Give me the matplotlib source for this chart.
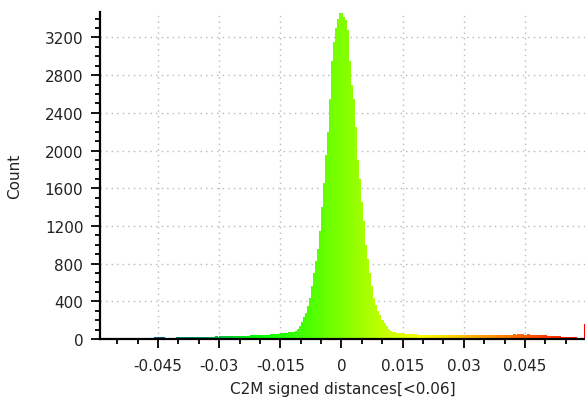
import numpy as np
import matplotlib
matplotlib.use("Agg")
import matplotlib.pyplot as plt
from matplotlib.colors import LinearSegmentedColormap
from matplotlib.ticker import MultipleLocator

# -----------------------------------------------------------
# Histogram data, bin width 0.0005
# -----------------------------------------------------------
bin_start = -0.06
bin_width = 0.0005

counts_left_tail = [
    4, 5, 3, 6, 5, 4, 6, 5, 7, 6,
    6, 8, 7, 6, 9, 8, 7, 9, 10, 8,
    9, 11, 10, 12, 11, 13, 12, 14, 16, 18,
    20, 19, 17, 15, 14, 13, 14, 15, 14, 16,
    15, 17, 16, 18, 17, 19, 18, 20, 19, 21,
    22, 21, 23, 24, 22, 25, 24, 26, 27, 25,
    28, 27, 29, 30, 28, 31, 30, 32, 33, 31,
    34, 33, 35, 36, 35, 38, 37, 39, 40, 41,
    42, 43, 45, 44, 47, 48, 50, 52, 54, 57,
    60, 63, 66,
]
counts_peak = [
    68, 70, 72, 75, 85, 110, 140, 180, 230, 280,
    350, 430, 560, 700, 830, 950, 1150, 1400, 1650, 1950,
    2200, 2550, 2950, 3150, 3300, 3400, 3460, 3420, 3380, 3280,
    2950, 2700, 2550, 2250, 1900, 1700, 1450, 1250, 1000, 850,
    700, 560, 430, 360, 300, 250, 200, 165, 135, 110,
    90, 78, 72, 68, 65, 62, 60,
]
counts_right_tail = [
    57, 55, 53, 52, 50, 49, 48, 47, 46, 45,
    44, 43, 44, 42, 41, 42, 40, 41, 39, 40,
    39, 38, 40, 38, 37, 39, 38, 37, 39, 38,
    38, 39, 37, 40, 38, 39, 41, 38, 40, 39,
    40, 41, 39, 42, 40, 43, 41, 42, 44, 43,
    44, 46, 45, 47, 48, 46, 49, 48, 50, 47,
    46, 48, 45, 44, 46, 43, 42, 40, 41, 38,
    36, 34, 33, 31, 30, 28, 27, 25, 24, 22,
    21, 20, 18, 17, 16, 15, 14, 13, 12, 160,
]

counts = np.array(counts_left_tail + counts_peak + counts_right_tail)
edges = bin_start + bin_width * np.arange(len(counts))
centers = edges + bin_width / 2

x_ticks = [-0.045, -0.03, -0.015, 0, 0.015, 0.03, 0.045]
x_tick_labels = ["-0.045", "-0.03", "-0.015", "0", "0.015", "0.03", "0.045"]

# -----------------------------------------------------------
# Blue > Green > Yellow > Red colour scale
# -----------------------------------------------------------
cmap = LinearSegmentedColormap.from_list(
    "bgyr", ["#0000ff", "#00ff00", "#ffff00", "#ff0000"])
colors = cmap((centers - bin_start) / (len(counts) * bin_width))

plt.rcParams['font.family'] = ['DejaVu Sans']
fig = plt.figure(figsize=(5.85, 4.06), dpi=100)
ax = fig.add_axes([0.171, 0.1626, 0.829, 0.8054])

ax.bar(edges, counts, width=bin_width * 1.6, align='edge',
       color=colors, linewidth=0, antialiased=False, zorder=2)

ax.set_xlim(-0.0592, 0.0597)
ax.set_ylim(0, 3470)

ax.set_xticks(x_ticks)
ax.set_xticklabels(x_tick_labels)
ax.xaxis.set_minor_locator(MultipleLocator(0.005))
ax.yaxis.set_major_locator(MultipleLocator(400))
ax.yaxis.set_minor_locator(MultipleLocator(100))

ax.grid(True, which='major', linestyle=(0, (1, 3)), color='#b8b8b8',
        linewidth=1.0, zorder=0)
ax.set_axisbelow(True)

for side in ['top', 'right']:
    ax.spines[side].set_visible(False)
for side in ['left', 'bottom']:
    ax.spines[side].set_linewidth(1.6)
    ax.spines[side].set_color('black')

ax.tick_params(axis='both', which='major', length=6.5, width=1.3,
               color='black', labelsize=11, labelcolor='#222222')
ax.tick_params(axis='both', which='minor', length=3.8, width=1.3,
               color='black')
ax.tick_params(axis='y', which='major', pad=5.5)
ax.tick_params(axis='x', which='major', pad=7)

ax.set_xlabel("C2M signed distances[<0.06]", fontsize=11, color='#222222',
              labelpad=6)
ax.set_ylabel("Count", fontsize=11, color='#222222', labelpad=16)

fig.savefig("out.png", dpi=100)
